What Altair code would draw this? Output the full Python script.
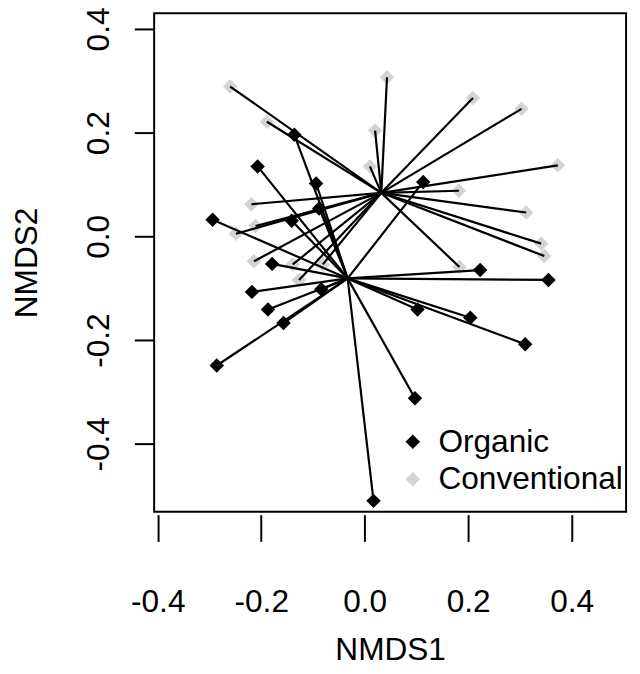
import altair as alt
import pandas as pd

# Organic samples (NMDS1, NMDS2)
org_x = [-0.136, -0.207, -0.094, 0.113, -0.088, -0.294, -0.141, -0.179, 0.223, 0.355,
         -0.218, -0.084, -0.187, 0.102, -0.157, 0.204, 0.310, -0.286, 0.097, 0.017]
org_y = [0.196, 0.135, 0.102, 0.105, 0.054, 0.032, 0.030, -0.053, -0.065, -0.084,
         -0.107, -0.102, -0.141, -0.141, -0.167, -0.157, -0.208, -0.249, -0.312, -0.510]
# Conventional samples
conv_x = [-0.260, 0.043, 0.209, 0.303, -0.189, 0.020, 0.010, 0.373, 0.182, 0.312,
          -0.219, -0.211, -0.249, 0.341, 0.347, -0.214, -0.139, -0.081, -0.127, 0.183]
conv_y = [0.289, 0.307, 0.267, 0.246, 0.221, 0.204, 0.135, 0.137, 0.088, 0.046,
          0.062, 0.020, 0.005, -0.014, -0.038, -0.048, -0.054, -0.054, -0.084, -0.059]
# Group centroids (spider centres)
org_centroid = (-0.033, -0.081)
conv_centroid = (0.032, 0.084)

groups = ["Organic", "Conventional"]
ticks = [-0.4, -0.2, 0.0, 0.2, 0.4]

pts = pd.DataFrame({
    "NMDS1": org_x + conv_x,
    "NMDS2": org_y + conv_y,
    "group": ["Organic"] * len(org_x) + ["Conventional"] * len(conv_x),
})
segs = pd.DataFrame({
    "NMDS1": org_x + conv_x,
    "NMDS2": org_y + conv_y,
    "cx": [org_centroid[0]] * len(org_x) + [conv_centroid[0]] * len(conv_x),
    "cy": [org_centroid[1]] * len(org_y) + [conv_centroid[1]] * len(conv_y),
})

FONT = "Liberation Sans"
label_expr = "replace(format(datum.value, '.1f'), '\u2212', '-')"

xscale = alt.Scale(domain=[-0.407, 0.505], nice=False, zero=False)
yscale = alt.Scale(domain=[-0.531, 0.4305], nice=False, zero=False)

xaxis = alt.Axis(values=ticks, labelExpr=label_expr, domain=False, grid=False,
                 tickSize=27, tickWidth=2, tickColor="black", offset=3,
                 labelFont=FONT, labelFontSize=32, labelColor="black",
                 labelBaseline="alphabetic", labelAlign="center", labelPadding=71,
                 labelFlush=False, labelOverlap=False,
                 title="NMDS1", titleFont=FONT, titleFontSize=32,
                 titleFontWeight="normal", titleColor="black",
                 titleBaseline="alphabetic", titleY=147)
yaxis = alt.Axis(values=ticks, labelExpr=label_expr, domain=False, grid=False,
                 tickSize=20, tickWidth=2, tickColor="black",
                 labelFont=FONT, labelFontSize=32, labelColor="black",
                 labelAngle=270, labelAlign="center", labelBaseline="alphabetic",
                 labelPadding=26, labelFlush=False, labelOverlap=False,
                 title="NMDS2", titleFont=FONT, titleFontSize=32,
                 titleFontWeight="normal", titleColor="black",
                 titleAngle=270, titleAlign="center", titleBaseline="alphabetic",
                 titleX=-119)

points = alt.Chart(pts).mark_point(shape="diamond", filled=True, size=215, opacity=1).encode(
    x=alt.X("NMDS1:Q", scale=xscale, axis=xaxis),
    y=alt.Y("NMDS2:Q", scale=yscale, axis=yaxis),
    color=alt.Color("group:N", scale=alt.Scale(domain=groups, range=["black", "#D3D3D3"]),
                    title=None,
                    legend=alt.Legend(orient="none", legendX=246, legendY=418,
                                      symbolType="diamond", symbolSize=215,
                                      labelFont=FONT, labelFontSize=32, labelColor="black",
                                      labelLimit=400, labelOffset=10, rowPadding=6,
                                      padding=0)),
)

rules = alt.Chart(segs).mark_rule(color="black", strokeWidth=2.2).encode(
    x="NMDS1:Q", y="NMDS2:Q", x2="cx:Q", y2="cy:Q"
)

chart = alt.layer(points, rules).properties(
    width=478, height=505,
    autosize=alt.AutoSizeParams(type="none"),
    padding={"left": 148, "top": 1, "right": 6, "bottom": 152},
).configure_view(stroke="black", strokeWidth=2)

chart.save("out.html", embed_options={"renderer": "svg", "actions": False})
